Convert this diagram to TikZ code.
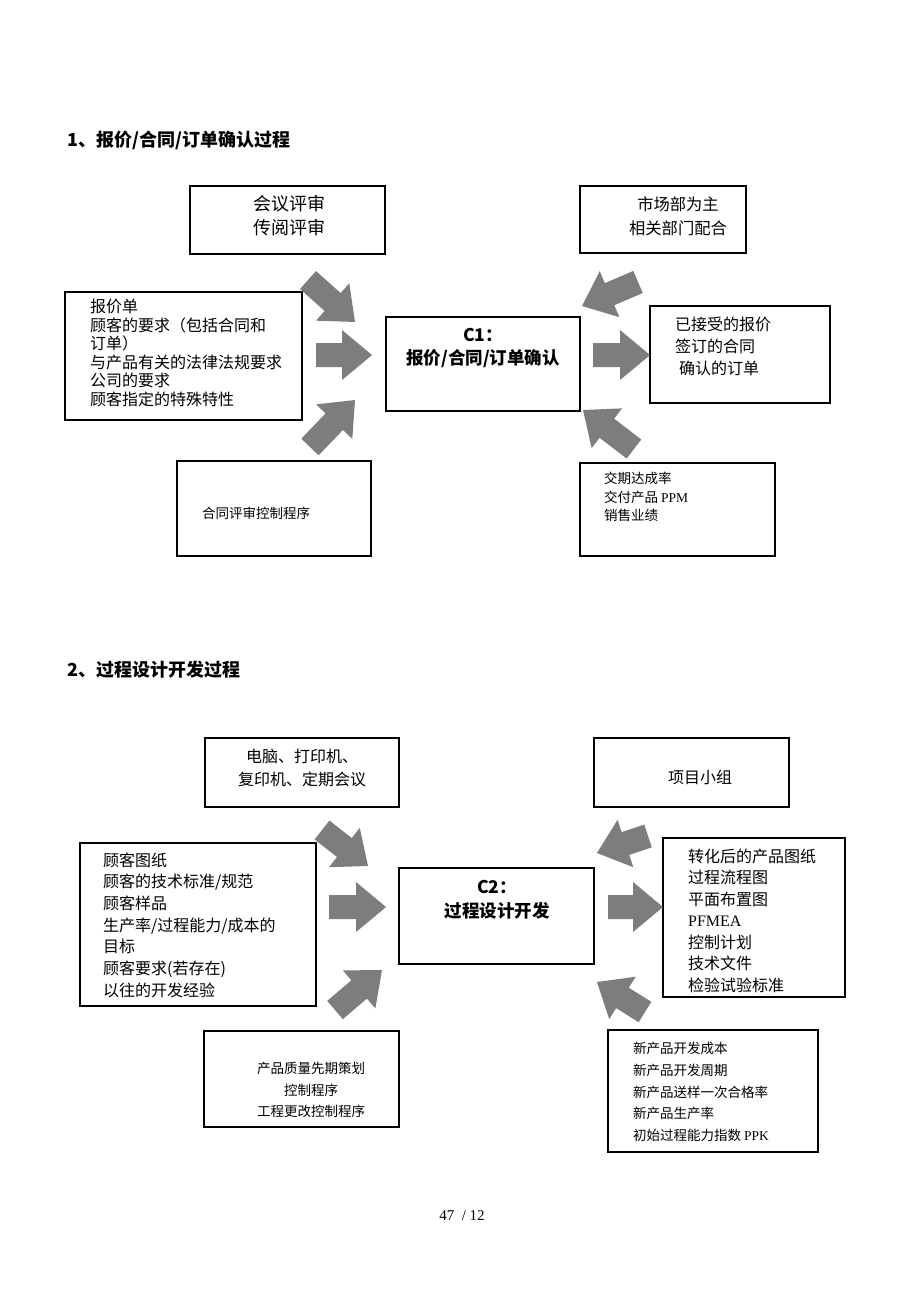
\documentclass[tikz,border=0pt]{standalone}
\usepackage{fontspec}
\setmainfont{Noto Sans CJK SC}
\newfontfamily\lat{Liberation Serif}
\definecolor{arrowgray}{RGB}{125,125,125}
\tikzset{
  box/.style={draw, line width=1.1pt, rectangle, inner sep=0pt},
  txt/.style={inner sep=0pt, align=left},
  ctxt/.style={inner sep=0pt, align=center},
  title/.style={inner sep=0pt, anchor=west, font=\bfseries\fontsize{18}{22}\selectfont},
  fillarrow/.style={fill=arrowgray, draw=none}
}
\newcommand\bx[5]{\node[box, minimum width={#4-#2}, minimum height={#5-#3}] (#1) at ({(#2+#4)/2},{(#3+#5)/2}) {};}
\newcommand\barrow[4]{%
  \pgfmathsetmacro\ang{atan2(-(#4-#2),#3-#1)}%
  \pgfmathsetmacro\len{veclen(#3-#1,#4-#2)}%
  \begin{scope}[shift={(#1,#2)},rotate=\ang]
    \fill[fillarrow] (0,-12) -- ({\len-30},-12) -- ({\len-30},-25) -- (\len,0) -- ({\len-30},25) -- ({\len-30},12) -- (0,12) -- cycle;
  \end{scope}}
\begin{document}
\begin{tikzpicture}[x=1pt,y=-1pt]
\useasboundingbox[fill=white] (0,0) rectangle (920,1302);

% ---------- Section 1 ----------
\node[title] (t1) at (67,140) {1、报价/合同/订单确认过程};

\bx{a1}{190}{186}{385}{254}
\node[ctxt, font=\fontsize{18}{24}\selectfont] (a1t) at (289,216) {会议评审\\传阅评审};

\bx{b1}{580}{186}{746}{253}
\node[ctxt, font=\fontsize{16.3}{24}\selectfont] (b1t) at (678,216) {市场部为主\\相关部门配合};

\bx{l1}{65}{292}{302}{420}
\node[txt, anchor=west, font=\fontsize{16}{18.5}\selectfont] (l1t) at (90,353) {报价单\\顾客的要求（包括合同和\\订单）\\与产品有关的法律法规要求\\公司的要求\\顾客指定的特殊特性};

\bx{c1}{386}{317}{580}{411}
\node[ctxt, font=\bfseries\fontsize{17.5}{23}\selectfont] (c1t) at (483,348) {C1：\\报价/合同/订单确认};

\bx{r1}{650}{306}{830}{403}
\node[txt, anchor=west, font=\fontsize{16}{22}\selectfont] (r1t) at (675,346) {已接受的报价\\签订的合同\\\hspace*{4pt}确认的订单};

\bx{d1}{177}{461}{371}{556}
\node[txt, anchor=west, font=\fontsize{13.5}{18}\selectfont] (d1t) at (202,513) {合同评审控制程序};

\bx{e1}{580}{463}{775}{556}
\node[txt, anchor=west, font=\fontsize{13.5}{18.5}\selectfont] (e1t) at (604,497) {交期达成率\\交付产品 {\lat PPM}\\销售业绩};

\barrow{308}{280}{355}{322}
\barrow{316}{355}{372}{355}
\barrow{310}{447}{355}{400}
\barrow{638}{282}{582}{306}
\barrow{593}{355}{650}{355}
\barrow{634}{449}{583}{410}

% ---------- Section 2 ----------
\node[title] (t2) at (67,670) {2、过程设计开发过程};

\bx{a2}{205}{738}{399}{807}
\node[ctxt, font=\fontsize{16}{23}\selectfont] (a2t) at (302,768) {电脑、打印机、\\复印机、定期会议};

\bx{b2}{594}{738}{789}{807}
\node[ctxt, font=\fontsize{16}{23}\selectfont] (b2t) at (700,777) {项目小组};

\bx{l2}{80}{843}{316}{1006}
\node[txt, anchor=west, font=\fontsize{16}{21.7}\selectfont] (l2t) at (103,925) {顾客图纸\\顾客的技术标准/规范\\顾客样品\\生产率/过程能力/成本的\\目标\\顾客要求(若存在)\\以往的开发经验};

\bx{c2}{399}{868}{594}{964}
\node[ctxt, font=\bfseries\fontsize{17.5}{24}\selectfont] (c2t) at (497,900) {C2：\\过程设计开发};

\bx{r2}{663}{838}{845}{997}
\node[txt, anchor=west, font=\fontsize{16}{21.5}\selectfont] (r2t) at (688,920.5) {转化后的产品图纸\\过程流程图\\平面布置图\\{\lat PFMEA}\\控制计划\\技术文件\\检验试验标准};

\bx{d2}{204}{1031}{399}{1127}
\node[ctxt, font=\fontsize{13.5}{21.5}\selectfont] (d2t) at (311,1090) {产品质量先期策划\\控制程序\\工程更改控制程序};

\bx{e2}{608}{1030}{818}{1152}
\node[txt, anchor=west, font=\fontsize{13.5}{21.7}\selectfont] (e2t) at (633,1092) {新产品开发成本\\新产品开发周期\\新产品送样一次合格率\\新产品生产率\\初始过程能力指数 {\lat PPK}};

\barrow{322}{830}{368}{866}
\barrow{329}{907}{386}{907}
\barrow{335}{1010}{382}{970}
\barrow{648}{836}{597}{853}
\barrow{608}{907}{663}{907}
\barrow{645}{1012}{597}{982}

\node[inner sep=0pt, font=\lat\fontsize{15}{17}\selectfont] (pg) at (462,1216) {47 \ / 12};
\end{tikzpicture}
\end{document}
